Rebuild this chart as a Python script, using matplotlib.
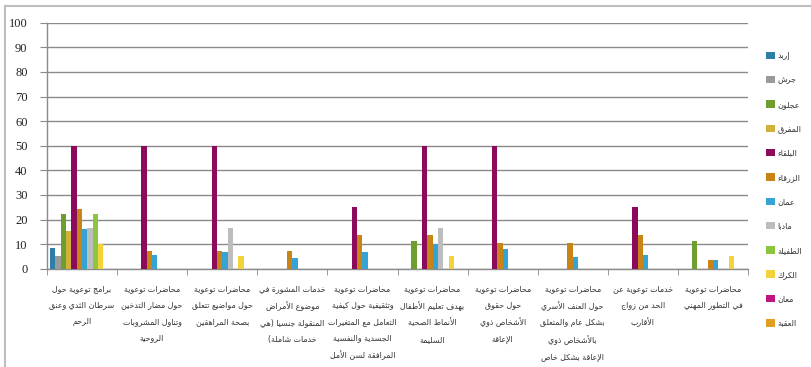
"""
Grouped bar chart: awareness programmes by governorate (Arabic labels).
"""

import matplotlib
matplotlib.use("Agg")
import matplotlib.pyplot as plt
import numpy as np
from matplotlib.patches import Patch, Rectangle

categories = [
    "برامج توعوية حول\nسرطان الثدي وعنق\nالرحم",
    "محاضرات توعوية\nحول مضار التدخين\nوتناول المشروبات\nالروحية",
    "محاضرات توعوية\nحول مواضيع تتعلق\nبصحة المراهقين",
    "خدمات المشورة في\nموضوع الأمراض\nالمنقولة جنسيا (هي\nخدمات شاملة)",
    "محاضرات توعوية\nوتثقيفية حول كيفية\nالتعامل مع المتغيرات\nالجسدية والنفسية\nالمرافقة لسن الأمل",
    "محاضرات توعوية\nبهدف تعليم الأطفال\nالأنماط الصحية\nالسليمة",
    "محاضرات توعوية\nحول حقوق\nالأشخاص ذوي\nالإعاقة",
    "محاضرات توعوية\nحول العنف الأسري\nبشكل عام والمتعلق\nبالأشخاص ذوي\nالإعاقة بشكل خاص",
    "خدمات توعوية عن\nالحد من زواج\nالأقارب",
    "محاضرات توعوية\nفي التطور المهني",
]

series_names = ["إربد", "جرش", "عجلون", "المفرق", "البلقاء", "الزرقاء",
                "عمان", "مادبا", "الطفيلة", "الكرك", "معان", "العقبة"]

irbid   = [8.3, 0, 0, 0, 0, 0, 0, 0, 0, 0]
jerash  = [5.2, 0, 0, 0, 0, 0, 0, 0, 0, 0]
ajloun  = [22.2, 0, 0, 0, 0, 11.1, 0, 0, 0, 11.1]
mafraq  = [15.2, 0, 0, 0, 0, 0, 0, 0, 0, 0]
balqa   = [50, 50, 50, 0, 25, 50, 50, 0, 25, 0]
zarqa   = [24.3, 7.0, 7.0, 7.0, 13.7, 13.7, 10.3, 10.3, 13.7, 3.5]
amman   = [16.0, 5.6, 6.7, 4.5, 6.7, 10.2, 7.9, 4.6, 5.6, 3.5]
madaba  = [16.7, 0, 16.7, 0, 0, 16.7, 0, 0, 0, 0]
tafileh = [22.2, 0, 0, 0, 0, 0, 0, 0, 0, 0]
karak   = [10.2, 0, 5.0, 0, 0, 5.0, 0, 0, 0, 5.0]
maan    = [0, 0, 0, 0, 0, 0, 0, 0, 0, 0]
aqaba   = [0, 0, 0, 0, 0, 0, 0, 0, 0, 0]

series_values = [irbid, jerash, ajloun, mafraq, balqa, zarqa,
                 amman, madaba, tafileh, karak, maan, aqaba]

colors = ["#2e7fa5", "#9a9a9a", "#6e9e2e", "#d2b13a", "#8c0a5c", "#c98417",
          "#35a3d3", "#bdbdbd", "#8dc540", "#f2d33a", "#c0157e", "#e09f22"]

yticks = list(range(0, 101, 10))


# --- minimal Arabic shaping (presentation forms + visual order) ---
_FORMS = {
    "ء": (0xFE80, 1), "آ": (0xFE81, 2), "أ": (0xFE83, 2), "ؤ": (0xFE85, 2),
    "إ": (0xFE87, 2), "ئ": (0xFE89, 4), "ا": (0xFE8D, 2), "ب": (0xFE8F, 4),
    "ة": (0xFE93, 2), "ت": (0xFE95, 4), "ث": (0xFE99, 4), "ج": (0xFE9D, 4),
    "ح": (0xFEA1, 4), "خ": (0xFEA5, 4), "د": (0xFEA9, 2), "ذ": (0xFEAB, 2),
    "ر": (0xFEAD, 2), "ز": (0xFEAF, 2), "س": (0xFEB1, 4), "ش": (0xFEB5, 4),
    "ص": (0xFEB9, 4), "ض": (0xFEBD, 4), "ط": (0xFEC1, 4), "ظ": (0xFEC5, 4),
    "ع": (0xFEC9, 4), "غ": (0xFECD, 4), "ف": (0xFED1, 4), "ق": (0xFED5, 4),
    "ك": (0xFED9, 4), "ل": (0xFEDD, 4), "م": (0xFEE1, 4), "ن": (0xFEE5, 4),
    "ه": (0xFEE9, 4), "و": (0xFEED, 2), "ى": (0xFEEF, 2), "ي": (0xFEF1, 4),
}
_LAM_ALEF = {"آ": 0xFEF5, "أ": 0xFEF7, "إ": 0xFEF9, "ا": 0xFEFB}
_MIRROR = {"(": ")", ")": "("}


def shape_line(text):
    out = []
    prev_joins = False
    i = 0
    n = len(text)
    while i < n:
        c = text[i]
        if c not in _FORMS:
            out.append(c)
            prev_joins = False
            i += 1
            continue
        if c == "ل" and i + 1 < n and text[i + 1] in _LAM_ALEF:
            out.append(chr(_LAM_ALEF[text[i + 1]] + (1 if prev_joins else 0)))
            prev_joins = False
            i += 2
            continue
        base, nforms = _FORMS[c]
        nxt = text[i + 1] if i + 1 < n else None
        joins_next = nforms == 4 and nxt in _FORMS and _FORMS[nxt][1] > 1
        if nforms == 1:
            form = 0
        elif prev_joins and joins_next:
            form = 3
        elif prev_joins:
            form = 1
        elif joins_next:
            form = 2
        else:
            form = 0
        out.append(chr(base + form))
        prev_joins = nforms == 4
        i += 1
    return "".join(_MIRROR.get(ch, ch) for ch in reversed(out))


def shape(text):
    return "\n".join(shape_line(line) for line in text.split("\n"))


fig = plt.figure(figsize=(8.11, 3.67), dpi=100)
ax = fig.add_axes([47 / 811, 1 - 268.7 / 367, 701 / 811, 246 / 367])

n_series = len(series_values)
bar_w = 64 / 70 / n_series
x = np.arange(len(categories))
for k, (vals, col) in enumerate(zip(series_values, colors)):
    ax.bar(x + (k - (n_series - 1) / 2) * bar_w, vals, width=bar_w,
           color=col, linewidth=0, zorder=3)

ax.set_xlim(-0.5, len(categories) - 0.5)
ax.set_ylim(0, 100)
ax.set_yticks(yticks)
ax.set_yticklabels([str(v) for v in yticks])
for t in ax.get_yticklabels():
    t.set_fontfamily("Liberation Serif")
    t.set_fontsize(9)
    t.set_color("#222222")
ax.yaxis.grid(True, color="#8a8a8a", linewidth=1.0, zorder=0)
ax.tick_params(axis="y", length=5, color="#8a8a8a", pad=9)

ax.set_xticks(x)
ax.set_xticklabels([shape(c) for c in categories])
for t in ax.get_xticklabels():
    t.set_fontfamily("DejaVu Sans")
    t.set_fontsize(5.7)
    t.set_color("#333333")
    t.set_linespacing(2.05)
ax.tick_params(axis="x", which="major", length=0, pad=11)
ax.set_xticks(np.arange(-0.5, len(categories), 1.0), minor=True)
ax.tick_params(axis="x", which="minor", length=4, color="#8a8a8a")

for side in ("top", "right"):
    ax.spines[side].set_visible(False)
for side in ("left", "bottom"):
    ax.spines[side].set_color("#8a8a8a")
    ax.spines[side].set_linewidth(1.0)

handles = [Patch(facecolor=c, edgecolor="none") for c in colors]
leg = fig.legend(handles, [shape(s) for s in series_names],
                 loc="upper left", bbox_to_anchor=(766 / 811, 1 - 51 / 367),
                 frameon=False, prop={"family": "DejaVu Sans", "size": 5.8},
                 handlelength=1.15, handleheight=1.05, handletextpad=0.3,
                 labelspacing=1.9, borderaxespad=0, borderpad=0)
for t in leg.get_texts():
    t.set_color("#333333")

fig.patches.append(Rectangle((5 / 811, -0.1), 1.2, 1.1 - 6 / 367,
                             transform=fig.transFigure, fill=False,
                             edgecolor="#bdbdbd", linewidth=1.5))

fig.savefig("out.png", dpi=100)
